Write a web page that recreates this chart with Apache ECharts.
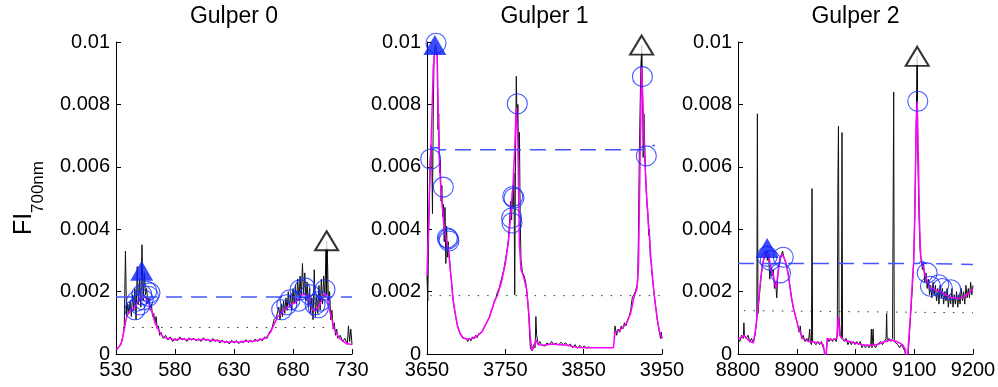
<!DOCTYPE html>
<html><head><meta charset="utf-8">
<script src="https://cdn.jsdelivr.net/npm/echarts@6/dist/echarts.min.js"></script>
<style>html,body{margin:0;padding:0;background:#fff}#c{width:998px;height:387px}</style>
</head><body><div id="c"></div>
<script>
const titles = ['Gulper 0', 'Gulper 1', 'Gulper 2'];
const xRanges = [[530, 730], [3650, 3950], [8800, 9200]];
const xTicks0 = [530, 580, 630, 680, 730];
const xTicks1 = [3650, 3750, 3850, 3950];
const xTicks2 = [8800, 8900, 9000, 9100, 9200];
const yTicks = [0, 0.002, 0.004, 0.006, 0.008, 0.01];

// ---- Gulper 0 ----
const raw0 = [[530,0.0001],[532,0.0002],[534,0.0003],[536,0.0006],[537,0.0009],[538,0.0033],[539,0.0012],[540,0.0016],[541,0.0013],[542,0.0017],[543,0.0012],[544,0.0019],[545,0.0014],[546,0.0021],[547,0.0011],[548,0.0028],[549,0.0016],[550,0.0024],[551,0.0015],[552,0.0035],[553,0.0017],[554,0.0026],[555,0.0019],[556,0.0021],[557,0.0016],[558,0.0018],[559,0.0014],[560,0.0016],[561,0.0012],[562,0.0013],[563,0.0010],[564,0.0012],[565,0.0008],[566,0.0009],[567,0.0006],[568,0.0007],[570,0.0005],[572,0.0006],[574,0.00045],[576,0.00055],[578,0.0004],[580,0.0005],[582,0.00042],[584,0.00055],[586,0.00045],[588,0.0005],[590,0.0004],[592,0.00052],[594,0.00044],[596,0.0005],[598,0.00042],[600,0.0005],[602,0.0004],[604,0.00052],[606,0.00043],[608,0.00048],[610,0.00038],[612,0.0005],[614,0.0004],[616,0.00046],[618,0.00035],[620,0.00045],[622,0.00036],[624,0.00042],[626,0.00032],[628,0.00044],[630,0.00035],[632,0.00043],[634,0.00033],[636,0.00042],[638,0.00036],[640,0.00046],[642,0.00037],[644,0.00044],[646,0.00038],[648,0.00048],[650,0.0004],[652,0.0005],[654,0.00042],[656,0.00055],[658,0.0005],[660,0.0007],[662,0.0008],[664,0.0011],[666,0.0012],[668,0.0015],[669,0.0011],[670,0.0016],[671,0.0012],[672,0.0017],[673,0.0013],[674,0.0018],[675,0.0014],[676,0.0020],[677,0.0015],[678,0.0019],[679,0.0014],[680,0.0021],[681,0.0016],[682,0.0022],[683,0.0016],[684,0.0024],[685,0.0017],[686,0.0025],[687,0.0018],[688,0.0029],[689,0.0019],[690,0.0026],[691,0.0017],[692,0.0023],[693,0.0015],[694,0.0021],[695,0.0013],[696,0.0018],[697,0.0011],[698,0.0027],[699,0.0012],[700,0.0019],[701,0.0013],[702,0.0022],[703,0.0014],[704,0.0024],[705,0.0016],[706,0.0025],[707,0.0018],[708,0.0034],[708.5,0.0019],[709,0.0034],[710,0.0017],[711,0.0020],[712,0.0011],[713,0.0014],[714,0.0008],[715,0.0010],[716,0.0006],[717,0.0008],[718,0.0005],[720,0.0006],[722,0.0004],[724,0.0005],[726,0.0003],[727,0.0009],[728,0.0004],[729,0.0008],[730,0.0003]];
const smooth0 = [[530,0.00015],[533,0.00025],[535,0.0004],[537,0.0008],[539,0.0012],[542,0.0014],[546,0.0015],[549,0.0017],[552,0.00185],[555,0.0018],[557,0.0017],[559,0.0015],[561,0.0013],[563,0.001],[565,0.00085],[567,0.0007],[570,0.00055],[573,0.0005],[576,0.0005],[580,0.00045],[585,0.0005],[590,0.00046],[595,0.00048],[600,0.00045],[605,0.00047],[610,0.00043],[615,0.00044],[620,0.0004],[625,0.00038],[630,0.0004],[635,0.00038],[640,0.00042],[645,0.0004],[650,0.00044],[655,0.00048],[658,0.00055],[661,0.0007],[664,0.00095],[667,0.0012],[670,0.0013],[673,0.00145],[676,0.0015],[679,0.0016],[682,0.00165],[685,0.0018],[688,0.0019],[691,0.0019],[693,0.0018],[695,0.0016],[697,0.0014],[699,0.00138],[701,0.0015],[703,0.0016],[705,0.0018],[707,0.00195],[709,0.0018],[711,0.0014],[713,0.0011],[715,0.0008],[717,0.00065],[719,0.00052],[721,0.00045],[724,0.00036],[727,0.00033],[730,0.0003]];
const circles0 = [[546.1,0.00142],[547.5,0.00169],[551.8,0.0019],[556,0.00201],[557.4,0.00185],[553,0.00174],[550.3,0.00158],[558.8,0.00196],[670.4,0.00142],[674.7,0.00158],[677.5,0.00174],[686,0.00206],[690.2,0.00212],[694.4,0.0019],[698.7,0.00158],[702.9,0.00169],[707.1,0.00206],[701.5,0.00148],[684.5,0.00169]];
const detect0 = [[551.8,0.00267]];
const peak0 = [[708.5,0.00363]];
const thresh0 = [[530,0.00183],[730,0.00183]];
const base0 = [[536,0.00085],[712,0.00085]];

// ---- Gulper 1 ----
const raw1 = [[3650,0.0025],[3651,0.0017],[3652,0.0036],[3653,0.005],[3654,0.0062],[3655,0.0067],[3656,0.0066],[3657,0.0045],[3658,0.0078],[3659,0.0095],[3660,0.0098],[3661,0.0099],[3662,0.0097],[3663,0.0096],[3664,0.0072],[3665,0.0077],[3666,0.0058],[3667,0.0062],[3668,0.0049],[3669,0.0054],[3670,0.0044],[3671,0.0048],[3672,0.0036],[3673,0.0047],[3674,0.0029],[3675,0.0041],[3676,0.0031],[3677,0.0036],[3678,0.0032],[3679,0.0030],[3680,0.0026],[3681,0.0024],[3682,0.0021],[3684,0.0016],[3686,0.0013],[3688,0.0010],[3690,0.0008],[3692,0.00065],[3694,0.0006],[3696,0.0005],[3698,0.00045],[3700,0.0005],[3702,0.0004],[3704,0.0005],[3706,0.00042],[3708,0.00055],[3710,0.00048],[3712,0.0006],[3714,0.00052],[3716,0.00065],[3718,0.0006],[3720,0.0007],[3722,0.0008],[3724,0.0009],[3726,0.001],[3728,0.0011],[3730,0.0012],[3732,0.0014],[3734,0.0015],[3736,0.0017],[3738,0.0018],[3740,0.002],[3742,0.0021],[3744,0.0023],[3746,0.0025],[3748,0.0027],[3750,0.003],[3752,0.0033],[3754,0.0037],[3755,0.0041],[3756,0.0045],[3757,0.0049],[3758,0.0043],[3759,0.0052],[3760,0.0047],[3761,0.0058],[3762,0.0019],[3763,0.0065],[3764,0.0089],[3765,0.0073],[3766,0.0080],[3767,0.0062],[3768,0.0071],[3769,0.0043],[3770,0.0030],[3772,0.0026],[3774,0.0025],[3776,0.0023],[3778,0.0019],[3780,0.0012],[3781,0.0006],[3782,0.0002],[3784,0.0001],[3786,0.0003],[3788,0.0002],[3789,0.0012],[3790,0.0006],[3792,0.0003],[3794,0.0004],[3796,0.0003],[3798,0.00035],[3800,0.00025],[3803,0.00035],[3806,0.0003],[3809,0.0004],[3812,0.0003],[3815,0.00035],[3818,0.00028],[3821,0.00038],[3824,0.0003],[3827,0.00036],[3830,0.00025],[3833,0.00032],[3836,0.0002],[3839,0.0003],[3842,0.00018],[3845,0.00028],[3848,0.0002],[3851,0.00026],[3854,0.00018],[3857,0.00025],[3870,null],[3889,0.0005],[3890,0.0009],[3892,0.0006],[3894,0.0008],[3896,0.0007],[3898,0.0009],[3900,0.0008],[3902,0.001],[3904,0.0009],[3906,0.0011],[3908,0.0012],[3910,0.0014],[3912,0.0018],[3914,0.0019],[3916,0.002],[3918,0.0022],[3919,0.0023],[3920,0.004],[3921,0.0063],[3922,0.0078],[3923,0.0092],[3924,0.0097],[3925,0.0088],[3926,0.0063],[3927,0.0077],[3928,0.0066],[3929,0.0058],[3930,0.0052],[3931,0.0047],[3932,0.0045],[3933,0.0038],[3934,0.0040],[3935,0.0031],[3936,0.0030],[3937,0.0026],[3938,0.0024],[3940,0.0019],[3942,0.0015],[3944,0.0011],[3946,0.0008],[3948,0.0005],[3949,0.0007],[3950,0.0005]];
const smooth1 = [[3650,0.0025],[3652,0.0042],[3654,0.0059],[3656,0.0074],[3658,0.0092],[3660,0.0097],[3663,0.0096],[3665,0.0068],[3667,0.0056],[3669,0.0049],[3671,0.0043],[3673,0.0039],[3675,0.0036],[3677,0.0034],[3679,0.0029],[3681,0.0024],[3683,0.0018],[3686,0.0013],[3689,0.0009],[3692,0.00068],[3696,0.00052],[3700,0.00048],[3705,0.00048],[3710,0.00052],[3715,0.0006],[3720,0.0007],[3725,0.00095],[3730,0.0012],[3735,0.0016],[3740,0.0019],[3745,0.0023],[3750,0.0029],[3754,0.0036],[3757,0.0045],[3760,0.0055],[3762,0.0066],[3764,0.0079],[3766,0.0068],[3768,0.0035],[3770,0.0027],[3773,0.0025],[3777,0.0021],[3780,0.0013],[3782,0.0005],[3784,0.00012],[3786,0.0002],[3789,0.00045],[3792,0.0003],[3800,0.00028],[3810,0.00032],[3820,0.0003],[3830,0.00028],[3840,0.00022],[3850,0.0002],[3857,0.0002],[3888,0.0002],[3890,0.0007],[3895,0.00075],[3900,0.00085],[3905,0.001],[3910,0.0013],[3914,0.0018],[3918,0.0021],[3920,0.0028],[3922,0.0062],[3924,0.0092],[3926,0.0078],[3928,0.0062],[3930,0.0052],[3933,0.0041],[3936,0.003],[3940,0.0019],[3944,0.0011],[3947,0.0007],[3950,0.0005]];
const circles1 = [[3661.5,0.00996],[3654.7,0.00625],[3670.8,0.00535],[3677.3,0.00369],[3678,0.00362],[3676,0.00372],[3765.3,0.00802],[3759.4,0.00505],[3761,0.0050],[3758,0.00436],[3758.5,0.0042],[3925,0.00889],[3930,0.00635]];
const detect1 = [[3660,0.0099]];
const peak1 = [[3924,0.0099]];
const thresh1 = [[3655,0.0066],[3663,0.00662],[3666,0.00655],[3928,0.00655],[3930,0.00668],[3941,0.00668]];
const base1 = [[3654,0.00187],[3950,0.00187]];

// ---- Gulper 2 ----
const raw2 = [[8800,0.0005],[8803,0.0004],[8806,0.0006],[8809,0.0005],[8810,0.001],[8811,0.0006],[8814,0.0005],[8817,0.0006],[8820,0.0004],[8823,0.0005],[8826,0.00035],[8829,0.0006],[8832,0.0011],[8833,0.0077],[8834,0.0013],[8836,0.0018],[8839,0.0024],[8842,0.0029],[8845,0.0031],[8848,0.0033],[8850,0.0030],[8852,0.0032],[8854,0.0024],[8856,0.0028],[8858,0.0025],[8860,0.0027],[8862,0.0021],[8864,0.0023],[8866,0.0018],[8868,0.0026],[8870,0.0029],[8872,0.0031],[8874,0.0032],[8876,0.0033],[8878,0.0031],[8880,0.0030],[8883,0.0028],[8886,0.0025],[8889,0.0021],[8892,0.0017],[8895,0.0014],[8898,0.0012],[8901,0.001],[8904,0.0007],[8906,0.0009],[8908,0.0005],[8911,0.0006],[8914,0.0004],[8917,0.0005],[8920,0.0004],[8922,0.0008],[8923,0.0004],[8925,0.0003],[8926,0.0053],[8927,0.0004],[8930,0.0004],[8933,0.0003],[8936,0.0004],[8939,0.0003],[8942,0.0004],[8945,0.0002],[8947,0.0001],[8949,-0.0004],[8951,-0.0004],[8952,0.0005],[8955,0.0004],[8958,0.0005],[8961,0.0004],[8964,0.0005],[8967,0.0004],[8969,0.0006],[8970,0.0055],[8971,0.0073],[8972,0.0012],[8974,0.0006],[8976,0.0005],[8977,0.0071],[8978,0.0005],[8981,0.0004],[8984,0.0005],[8987,0.0003],[8990,0.0004],[8993,0.0003],[8996,0.0004],[8999,0.0003],[9002,0.0004],[9005,0.0003],[9008,0.0004],[9011,0.0002],[9014,0.0003],[9017,0.0002],[9020,0.0003],[9023,0.0002],[9026,0.0003],[9027,0.0008],[9028,0.0002],[9030,0.0008],[9031,0.0003],[9034,0.0002],[9037,0.0003],[9040,0.0003],[9043,0.0004],[9046,0.0003],[9049,0.0004],[9052,0.0005],[9053,0.0013],[9054,0.0004],[9057,0.0005],[9060,0.0004],[9063,0.0005],[9065,0.0084],[9066,0.0004],[9069,0.0004],[9072,0.0003],[9075,0.0002],[9078,0.0003],[9081,0.0002],[9084,0.0001],[9087,-0.0003],[9089,-0.0002],[9091,0.0004],[9094,0.0013],[9097,0.0022],[9099,0.003],[9101,0.0045],[9103,0.0071],[9105,0.0093],[9106,0.0064],[9108,0.0045],[9110,0.0033],[9112,0.0030],[9114,0.0027],[9116,0.0029],[9118,0.0023],[9120,0.0026],[9122,0.0021],[9124,0.0024],[9126,0.0019],[9128,0.0022],[9130,0.0018],[9132,0.0023],[9134,0.0019],[9136,0.0022],[9138,0.0017],[9140,0.0021],[9142,0.0016],[9144,0.0022],[9146,0.0018],[9148,0.0021],[9150,0.0016],[9152,0.002],[9154,0.0017],[9156,0.0021],[9158,0.0015],[9160,0.0019],[9162,0.0016],[9164,0.0021],[9166,0.0015],[9168,0.0019],[9170,0.0016],[9172,0.0020],[9174,0.0015],[9176,0.0019],[9178,0.0016],[9180,0.0021],[9182,0.0017],[9184,0.0020],[9186,0.0016],[9188,0.0022],[9190,0.0018],[9192,0.0021],[9194,0.0018],[9196,0.0023],[9198,0.0019],[9200,0.0022]];
const smooth2 = [[8800,0.0005],[8805,0.00052],[8810,0.0006],[8815,0.0005],[8820,0.0004],[8826,0.00036],[8830,0.0008],[8833,0.0013],[8836,0.0019],[8839,0.0025],[8842,0.0029],[8846,0.0032],[8850,0.0033],[8853,0.0031],[8856,0.0027],[8859,0.0026],[8862,0.0023],[8865,0.0021],[8868,0.0026],[8871,0.003],[8875,0.0032],[8878,0.0031],[8882,0.0029],[8886,0.0025],[8890,0.0019],[8894,0.0015],[8898,0.0012],[8902,0.0009],[8906,0.0007],[8910,0.0005],[8915,0.00045],[8920,0.0004],[8930,0.00038],[8940,0.00036],[8945,0.0003],[8947,0.0001],[8948,-0.0005],[8951,-0.0005],[8952,0.0005],[8960,0.00045],[8968,0.0005],[8971,0.0012],[8973,0.0006],[8980,0.00045],[8990,0.0004],[9000,0.00035],[9010,0.0003],[9020,0.00028],[9030,0.00028],[9040,0.00032],[9050,0.0004],[9060,0.00045],[9070,0.0004],[9080,0.0003],[9085,0.00015],[9087,-0.0005],[9090,0.0003],[9093,0.0011],[9097,0.0024],[9099,0.0029],[9101,0.0045],[9103,0.007],[9105,0.0081],[9107,0.0062],[9109,0.0042],[9111,0.0031],[9115,0.0028],[9119,0.0025],[9123,0.0023],[9128,0.0021],[9133,0.0021],[9140,0.002],[9146,0.002],[9152,0.0019],[9158,0.00185],[9164,0.0018],[9170,0.0018],[9176,0.00178],[9182,0.0018],[9188,0.0019],[9194,0.00195],[9200,0.0021]];
const circles2 = [[8849.6,0.00313],[8855,0.003],[8877,0.0031],[8872.3,0.0026],[9106,0.0081],[9122,0.0026],[9127.6,0.00217],[9141.8,0.00222],[9148,0.0021],[9162,0.00206]];
const detect2 = [[8849.6,0.0034]];
const peak2 = [[9105,0.00954]];
const thresh2 = [[8800,0.0029],[9108,0.0029],[9112,0.00298],[9120,0.0029],[9200,0.00287]];
const base2 = [[8810,0.00139],[9200,0.00132]];

const raws = [raw0, raw1, raw2];
const smooths = [smooth0, smooth1, smooth2];
const circles = [circles0, circles1, circles2];
const detects = [detect0, detect1, detect2];
const peaks = [peak0, peak1, peak2];
const threshs = [thresh0, thresh1, thresh2];
const bases = [base0, base1, base2];
const xTicks = [xTicks0, xTicks1, xTicks2];

const FONT = 'Liberation Sans, Arial, Helvetica, sans-serif';
const grids = [
  {left: 116, top: 42, width: 236, height: 312},
  {left: 427, top: 42, width: 235, height: 312},
  {left: 738, top: 42, width: 235, height: 312}
];

const chart = echarts.init(document.getElementById('c'), null, {renderer: 'canvas'});
const option = {
  animation: false,
  backgroundColor: '#fff',
  grid: grids.map(g => Object.assign({outerBoundsMode: 'none', containLabel: false}, g)),
  xAxis: grids.map((g, i) => ({
    type: 'value', gridIndex: i, min: xRanges[i][0], max: xRanges[i][1],
    axisLine: {show: true, onZero: false, lineStyle: {color: '#000', width: 1}},
    axisTick: {show: true, inside: true, length: 5, customValues: xTicks[i], lineStyle: {color: '#000'}},
    axisLabel: {show: true, customValues: xTicks[i], color: '#000', fontSize: 20, fontFamily: FONT, margin: 6,
      formatter: v => String(Math.round(v))},
    splitLine: {show: false}
  })),
  yAxis: grids.map((g, i) => ({
    type: 'value', gridIndex: i, min: 0, max: 0.01, interval: 0.002,
    axisLine: {show: true, lineStyle: {color: '#000', width: 1}},
    axisTick: {show: true, inside: true, length: 5, customValues: yTicks, lineStyle: {color: '#000'}},
    axisLabel: {show: true, customValues: yTicks, color: '#000', fontSize: 20, fontFamily: FONT, margin: 6,
      formatter: v => v === 0 ? '0' : String(+Number(v).toFixed(3))},
    splitLine: {show: false}
  })),
  graphic: [
    ...titles.map((t, i) => ({
      type: 'text', x: grids[i].left + grids[i].width / 2, y: 17,
      style: {text: t, font: '23px ' + FONT, fill: '#000', textAlign: 'center', textVerticalAlign: 'middle'}
    })),
    {type: 'text', x: 24, y: 224, rotation: Math.PI / 2,
      style: {text: 'FI', font: '25px ' + FONT, fill: '#000', textAlign: 'center', textVerticalAlign: 'middle'}},
    {type: 'text', x: 38, y: 187, rotation: Math.PI / 2,
      style: {text: '700nm', font: '17px ' + FONT, fill: '#000', textAlign: 'center', textVerticalAlign: 'middle'}}
  ],
  series: []
};

for (let i = 0; i < 3; i++) {
  option.series.push(
    {type: 'line', xAxisIndex: i, yAxisIndex: i, data: raws[i], showSymbol: false, connectNulls: false,
      lineStyle: {color: '#111', width: 1}, z: 2, silent: true},
    {type: 'line', xAxisIndex: i, yAxisIndex: i, data: smooths[i], showSymbol: false,
      lineStyle: {color: '#ff00ff', width: 1.5}, z: 3, silent: true},
    {type: 'line', xAxisIndex: i, yAxisIndex: i, data: bases[i], showSymbol: false,
      lineStyle: {color: '#333', width: 1, type: [1.5, 8]}, z: 4, silent: true},
    {type: 'line', xAxisIndex: i, yAxisIndex: i, data: threshs[i], showSymbol: false,
      lineStyle: {color: '#4455ff', width: 1.5, type: [16, 9]}, z: 4, silent: true},
    {type: 'scatter', xAxisIndex: i, yAxisIndex: i, data: circles[i], symbol: 'circle', symbolSize: 20, clip: false,
      itemStyle: {color: 'rgba(0,0,0,0)', borderColor: '#1530ff', borderWidth: 1.1}, z: 5, silent: true},
    {type: 'line', xAxisIndex: i, yAxisIndex: i, data: [[peaks[i][0][0], peaks[i][0][1]], [peaks[i][0][0], smooths[i].reduce((m, p) => Math.abs(p[0] - peaks[i][0][0]) < 2 ? Math.max(m, p[1]) : m, 0)]],
      showSymbol: false, lineStyle: {color: '#000', width: 1.2}, z: 5, silent: true},
    {type: 'scatter', xAxisIndex: i, yAxisIndex: i, data: peaks[i], symbol: 'triangle', symbolSize: [23, 19], clip: false,
      itemStyle: {color: '#fff', borderColor: '#000', borderWidth: 2}, z: 6, silent: true},
    {type: 'scatter', xAxisIndex: i, yAxisIndex: i, data: detects[i], symbol: 'triangle', symbolSize: [23, 20], clip: false,
      itemStyle: {color: '#0a1eff'}, z: 7, silent: true}
  );
}
chart.setOption(option);
</script></body></html>
